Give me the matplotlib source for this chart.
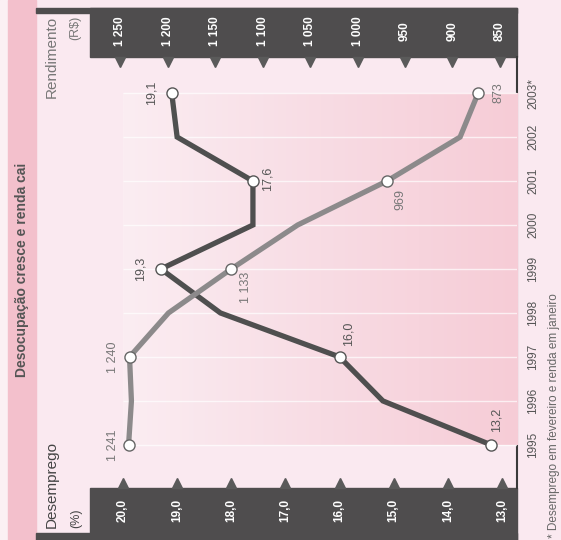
import numpy as np
import matplotlib
matplotlib.use("Agg")
import matplotlib.pyplot as plt
from matplotlib.patches import Rectangle
from matplotlib.colors import LinearSegmentedColormap
from matplotlib.transforms import blended_transform_factory

plt.rcParams['font.family'] = ['Liberation Sans', 'DejaVu Sans']

# data
years = [1995, 1996, 1997, 1998, 1999, 2000, 2001, 2002, 2003]
year_labels = ['1995', '1996', '1997', '1998', '1999', '2000', '2001', '2002', '2003*']
desemprego = [13.2, 15.2, 16.0, 18.2, 19.3, 17.6, 17.6, 19.0, 19.1]
rendimento = [1241, 1238, 1240, 1199, 1133, 1063, 969, 892, 873]
marked = [0, 2, 4, 6, 8]
desemp_labels = ['13,2', '16,0', '19,3', '17,6', '19,1']
rend_labels = ['1 241', '1 240', '1 133', '969', '873']
desemp_ticks = [20, 19, 18, 17, 16, 15, 14, 13]
desemp_ticklabels = ['20,0', '19,0', '18,0', '17,0', '16,0', '15,0', '14,0', '13,0']
rend_ticks = [1250, 1200, 1150, 1100, 1050, 1000, 950, 900, 850]
rend_ticklabels = ['1 250', '1 200', '1 150', '1 100', '1 050', '1 000', '950', '900', '850']

bgcol = '#fae9f0'
band = '#4f4d4e'
dark = '#4f4f4f'
light = '#8c8a8b'

fig = plt.figure(figsize=(5.61, 5.40), dpi=100, facecolor=bgcol)

# background, pixel coords (chart is printed rotated)
bg = fig.add_axes([0, 0, 1, 1])
bg.set_xlim(0, 561)
bg.set_ylim(540, 0)
bg.axis('off')
bg.add_patch(Rectangle((0, 0), 8, 540, color='#fbf0f4', zorder=0))
bg.add_patch(Rectangle((8, 0), 28, 540, color='#f3c0cc', zorder=0))
bg.add_patch(Rectangle((36, 8), 481, 5, color=band, zorder=1))
bg.add_patch(Rectangle((90, 8), 427, 49, color=band, zorder=1))
bg.add_patch(Rectangle((36, 533), 481, 7, color=band, zorder=1))
bg.add_patch(Rectangle((90, 488), 427, 52, color=band, zorder=1))
bg.plot([517, 517], [57, 488], color='#3a3a3a', lw=1.5, zorder=2)

# desemprego axes: x = %, inverted; y = year
ax = fig.add_axes([37 / 561, 52 / 540, 480 / 561, 431 / 540])
ax.patch.set_alpha(0)
ax.axis('off')
# rendimento axes on top, same box
ax2 = fig.add_axes([37 / 561, 52 / 540, 480 / 561, 431 / 540])
ax2.patch.set_alpha(0)
ax2.axis('off')

cmap = LinearSegmentedColormap.from_list('rosa', ['#fbedf2', '#f8dce4', '#f6ccd6'])
grad = np.linspace(0, 1, 256).reshape(1, -1)
ax.imshow(grad, extent=[20.0, 12.723, 1995, 2003], aspect='auto', cmap=cmap, zorder=0)
ax.hlines(years, 20.0, 12.723, color='white', lw=1, alpha=0.7, zorder=1)

ax.plot(desemprego, years, color=dark, lw=3.8, solid_joinstyle='miter', zorder=3)
ax.plot([desemprego[i] for i in marked], [years[i] for i in marked], 'o', ms=8,
        mfc='white', mec='#555555', mew=1, zorder=5)
ax.set_xlim(21.588, 12.723)
ax.set_ylim(1994.02, 2003.82)

ax2.plot(rendimento, years, color=light, lw=3.8, solid_joinstyle='miter', zorder=4)
ax2.plot([rendimento[i] for i in marked], [years[i] for i in marked], 'o', ms=8,
         mfc='white', mec='#666666', mew=1, zorder=6)
ax2.set_xlim(1337.4, 832.1)
ax2.set_ylim(1994.02, 2003.82)

d_off = [(5, 25), (9, 23), (-20, 0), (15, 2), (-20, 0)]
r_off = [(-16, 0), (-17, 0), (15, -18), (13, -18), (20, 0)]
for k, i in enumerate(marked):
    ax.annotate(desemp_labels[k], (desemprego[i], years[i]), xytext=d_off[k],
                textcoords='offset pixels', rotation=90, ha='center', va='center',
                fontsize=9, color='#555555')
    ax2.annotate(rend_labels[k], (rendimento[i], years[i]), xytext=r_off[k],
                 textcoords='offset pixels', rotation=90, ha='center', va='center',
                 fontsize=9, color='#777777')

# tick labels inside the dark bands
tr1 = blended_transform_factory(ax2.transData, bg.transData)
for v, s in zip(rend_ticks, rend_ticklabels):
    bg.text(v, 31, s, transform=tr1, rotation=90, ha='center', va='center',
            fontsize=8.5, fontweight='bold', color='white')
    bg.plot([v], [62], marker='v', ms=7, color='#5a5a5a', transform=tr1, clip_on=False)
tr2 = blended_transform_factory(ax.transData, bg.transData)
for v, s in zip(desemp_ticks, desemp_ticklabels):
    bg.text(v, 510, s, transform=tr2, rotation=90, ha='center', va='center',
            fontsize=8.5, fontweight='bold', color='white')
    bg.plot([v], [483], marker='^', ms=7, color='#5a5a5a', transform=tr2, clip_on=False)

# years
tr3 = blended_transform_factory(bg.transData, ax.transData)
for yv, s in zip(years, year_labels):
    bg.text(533, yv, s, transform=tr3, rotation=90, ha='center', va='center',
            fontsize=8.5, color='#555555')

bg.text(22, 270, 'Desocupação cresce e renda cai', rotation=90, ha='center', va='center',
        fontsize=10, fontweight='bold', color='#555555')
bg.text(52, 16, 'Rendimento', rotation=90, ha='center', va='top', fontsize=11, color='#777777')
bg.text(75, 16, '(R$)', rotation=90, ha='center', va='top', fontsize=9, color='#777777')
bg.text(52, 528, 'Desemprego', rotation=90, ha='center', va='bottom', fontsize=11, color='#444444')
bg.text(76, 528, '(%)', rotation=90, ha='center', va='bottom', fontsize=9, color='#444444')
bg.text(554, 538, '* Desemprego em fevereiro e renda em janeiro', rotation=90,
        ha='center', va='bottom', fontsize=8.5, color='#666666')

plt.savefig('out.png', dpi=100, facecolor=bgcol)
